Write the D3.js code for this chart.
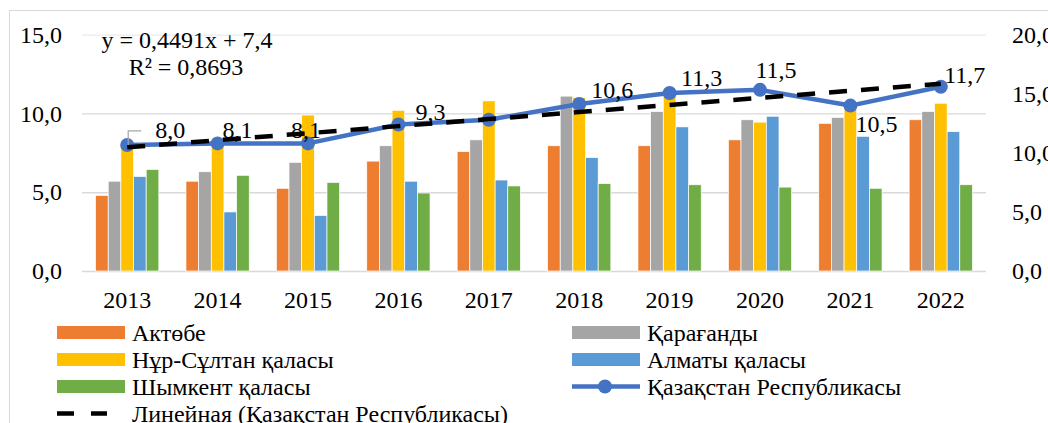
<!DOCTYPE html>
<html>
<head>
<meta charset="utf-8">
<script src="https://cdn.jsdelivr.net/npm/d3@7"></script>
<style>
  body { margin: 0; background: #fff; }
</style>
</head>
<body>
<script>
// data
const years = ['2013', '2014', '2015', '2016', '2017', '2018', '2019', '2020', '2021', '2022'];
const seriesNames = ['Актөбе', 'Қарағанды', 'Нұр-Сұлтан қаласы', 'Алматы қаласы', 'Шымкент қаласы'];
const aktobe    = [6.4, 7.6, 7.0, 9.3, 10.1, 10.6, 10.6, 11.1, 12.5, 12.8];
const karaganda = [7.6, 8.4, 9.2, 10.6, 11.1, 14.8, 13.5, 12.8, 13.0, 13.5];
const nurSultan = [10.6, 10.8, 13.2, 13.6, 14.4, 14.7, 14.8, 12.6, 14.0, 14.2];
const almaty    = [8.0, 5.0, 4.7, 7.6, 7.7, 9.6, 12.2, 13.1, 11.4, 11.8];
const shymkent  = [8.6, 8.1, 7.5, 6.6, 7.2, 7.4, 7.3, 7.1, 7.0, 7.3];
const kazName = 'Қазақстан Республикасы';
const kazakhstan = [8.0, 8.1, 8.1, 9.3, 9.6, 10.6, 11.3, 11.5, 10.5, 11.7];
const trendName = 'Линейная (Қазақстан Республикасы)';
const leftTicks = [0, 5, 10, 15];
const rightTicks = [0, 5, 10, 15, 20];
const colors = ['#ED7D31', '#A5A5A5', '#FFC000', '#5B9BD5', '#70AD47'];

const barSeries = [aktobe, karaganda, nurSultan, almaty, shymkent];

// label placement (offset from the marker), 2017 has no label
const labelOffsets = [[43, -15], [20, -14], [-2, -14], [32, -13], null, [33, -14], [32, -15], [16, -20], [26, 18], [24, -12]];

const FONT = '"Liberation Serif", "Times New Roman", serif';
const FS = 24;
const W = 1048, H = 423;
const plot = { left: 82, right: 986, top: 34.7, bottom: 271 };
const fmt = v => d3.format('.1f')(v).replace('.', ',');

const svg = d3.select('body').append('svg')
    .attr('width', W)
    .attr('height', H)
    .attr('font-family', FONT);

// chart frame
svg.append('rect')
    .attr('x', 9.5).attr('y', 10.5)
    .attr('width', W + 20).attr('height', H + 20)
    .attr('fill', 'none')
    .attr('stroke', '#d9d9d9');

const x = d3.scaleBand()
    .domain(years)
    .range([plot.left, plot.right])
    .paddingInner(0.3)
    .paddingOuter(0.15);

const xs = d3.scaleBand()
    .domain(d3.range(seriesNames.length))
    .range([0, x.bandwidth()]);

const yL = d3.scaleLinear().domain([0, 15]).range([plot.bottom, plot.top]);
const yR = d3.scaleLinear().domain([0, 20]).range([plot.bottom, plot.top]);

const cx = d => x(d) + x.bandwidth() / 2;

// gridlines
const grid = svg.append('g')
    .attr('transform', `translate(${plot.left},0)`)
    .call(d3.axisLeft(yL).tickValues(leftTicks).tickSize(-(plot.right - plot.left)).tickFormat(''));
grid.select('.domain').remove();
grid.selectAll('line')
    .attr('stroke', d => d === 15 ? '#ebebeb' : '#d9d9d9')
    .attr('stroke-width', 1.3);

function styleAxis(g) {
    g.select('.domain').remove();
    g.attr('font-family', FONT);
    g.selectAll('text').attr('font-family', FONT).style('font-size', FS + 'px').attr('fill', '#000');
}

// left axis
const gL = svg.append('g')
    .attr('transform', `translate(${plot.left},0)`)
    .call(d3.axisLeft(yL).tickValues(leftTicks).tickSize(0).tickPadding(20).tickFormat(fmt));
styleAxis(gL);

// right axis
const gR = svg.append('g')
    .attr('transform', `translate(${plot.right},0)`)
    .call(d3.axisRight(yR).tickValues(rightTicks).tickSize(0).tickPadding(26).tickFormat(fmt));
styleAxis(gR);

// x axis
const gX = svg.append('g')
    .attr('transform', `translate(0,${plot.bottom})`)
    .call(d3.axisBottom(x).tickSize(0).tickPadding(20));
styleAxis(gX);

// bars (secondary axis)
barSeries.forEach((vals, s) => {
    svg.append('g').selectAll('rect')
        .data(vals)
        .join('rect')
        .attr('x', (d, i) => x(years[i]) + xs(s))
        .attr('y', d => yR(d))
        .attr('width', xs.bandwidth())
        .attr('height', d => plot.bottom - yR(d))
        .attr('fill', colors[s])
        .attr('stroke', '#fff')
        .attr('stroke-width', 0.7);
});

// Kazakhstan line (primary axis)
const line = d3.line()
    .x((d, i) => cx(years[i]))
    .y(d => yL(d));

svg.append('path')
    .datum(kazakhstan)
    .attr('d', line)
    .attr('fill', 'none')
    .attr('stroke', '#4472C4')
    .attr('stroke-width', 4.5)
    .attr('stroke-linejoin', 'round');

svg.append('g').selectAll('circle')
    .data(kazakhstan)
    .join('circle')
    .attr('cx', (d, i) => cx(years[i]))
    .attr('cy', d => yL(d))
    .attr('r', 7)
    .attr('fill', '#4472C4');

// linear trend (least squares over 1..n)
const n = kazakhstan.length;
const xi = d3.range(1, n + 1);
const mx = d3.mean(xi), my = d3.mean(kazakhstan);
const slope = d3.sum(xi, (v, i) => (v - mx) * (kazakhstan[i] - my)) / d3.sum(xi, v => (v - mx) ** 2);
const intercept = my - slope * mx;
const trend = xi.map(v => intercept + slope * v);

svg.append('path')
    .datum(trend)
    .attr('d', line)
    .attr('fill', 'none')
    .attr('stroke', '#000')
    .attr('stroke-width', 4.5)
    .attr('stroke-dasharray', '18,14');

// leader line for the first label
const p0 = [cx(years[0]), yL(kazakhstan[0])];
svg.append('path')
    .attr('d', `M${p0[0] + 14},${p0[1] - 14}H${p0[0] + 1}V${p0[1]}`)
    .attr('fill', 'none')
    .attr('stroke', '#a6a6a6')
    .attr('stroke-width', 1.2);

// data labels
svg.append('g').selectAll('text')
    .data(kazakhstan.map((v, i) => ({ v, i, off: labelOffsets[i] })).filter(d => d.off))
    .join('text')
    .attr('x', d => cx(years[d.i]) + d.off[0])
    .attr('y', d => yL(d.v) + d.off[1])
    .attr('dy', '0.35em')
    .attr('text-anchor', 'middle')
    .style('font-size', FS + 'px')
    .text(d => fmt(d.v));

// trend equation
svg.append('text')
    .attr('x', 187).attr('y', 40).attr('dy', '0.35em')
    .attr('text-anchor', 'middle')
    .style('font-size', FS + 'px')
    .text('y = 0,4491x + 7,4');
svg.append('text')
    .attr('x', 186).attr('y', 67).attr('dy', '0.35em')
    .attr('text-anchor', 'middle')
    .style('font-size', FS + 'px')
    .text('R² = 0,8693');

// legend
const legendItems = [
    { name: seriesNames[0], type: 'bar', color: colors[0] },
    { name: seriesNames[1], type: 'bar', color: colors[1] },
    { name: seriesNames[2], type: 'bar', color: colors[2] },
    { name: seriesNames[3], type: 'bar', color: colors[3] },
    { name: seriesNames[4], type: 'bar', color: colors[4] },
    { name: kazName, type: 'line' },
    { name: trendName, type: 'trend' }
];

const legend = svg.append('g');
legendItems.forEach((d, k) => {
    const col = k % 2, row = Math.floor(k / 2);
    const gx = col === 0 ? 57 : 572;
    const gy = 332.5 + row * 27;
    const g = legend.append('g').attr('transform', `translate(${gx},${gy})`);
    if (d.type === 'bar') {
        g.append('rect').attr('x', 0).attr('y', -6.5).attr('width', 68).attr('height', 13).attr('fill', d.color);
    } else if (d.type === 'line') {
        g.append('line').attr('x1', 0).attr('x2', 68).attr('stroke', '#4472C4').attr('stroke-width', 4.5);
        g.append('circle').attr('cx', 33).attr('r', 7).attr('fill', '#4472C4');
    } else {
        g.append('line').attr('x1', 0).attr('x2', 50).attr('stroke', '#000')
            .attr('stroke-width', 4.5).attr('stroke-dasharray', '17,17');
    }
    g.append('text')
        .attr('x', 75).attr('dy', '0.35em')
        .style('font-size', FS + 'px')
        .text(d.name);
});
</script>
</body>
</html>
